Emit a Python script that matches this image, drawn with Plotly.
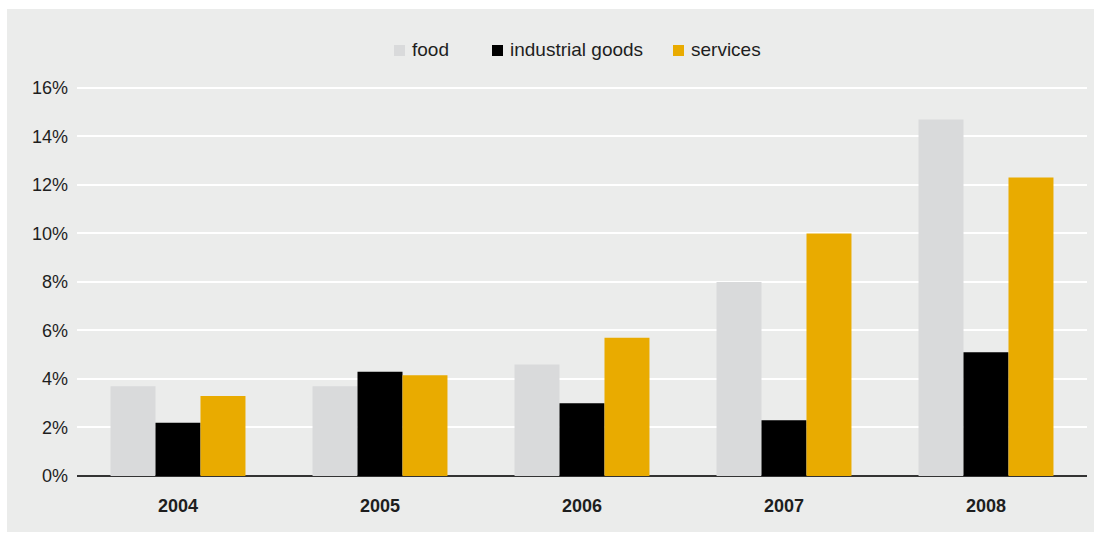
import plotly.graph_objects as go

# Annual price growth by category
years = ["2004", "2005", "2006", "2007", "2008"]
food = [3.7, 3.7, 4.6, 8.0, 14.7]
industrial_goods = [2.2, 4.3, 3.0, 2.3, 5.1]
services = [3.3, 4.15, 5.7, 10.0, 12.3]
y_ticks = [0, 2, 4, 6, 8, 10, 12, 14, 16]
y_tick_text = [f"{v}%" for v in y_ticks]

series = [
    ("food", food, "#d9dadb"),
    ("industrial goods", industrial_goods, "#000000"),
    ("services", services, "#e9ab00"),
]

PANEL = "#ebeceb"
TEXT = "#1e1e1e"
FONT = "Liberation Sans, Arial, sans-serif"

W, H = 1094, 533
ml, mr, mt, mb = 77, 7, 83, 57
pw, ph = W - ml - mr, H - mt - mb


def px_x(x):
    return (x - ml) / pw


def px_y(y):
    return (H - mb - y) / ph


fig = go.Figure()
for name, vals, color in series:
    fig.add_trace(go.Bar(name=name, x=years, y=vals, marker_color=color,
                         marker_line_width=0, showlegend=False))

# grey panel behind the whole chart, leaving a thin white frame top/left
fig.add_shape(type="rect", xref="paper", yref="paper", layer="below",
              x0=px_x(7), x1=px_x(W), y0=px_y(532), y1=px_y(9),
              fillcolor=PANEL, line_width=0)

# key across the top: small square swatch followed by the series name
legend_x = [394, 492, 673]
for (name, _, color), lx in zip(series, legend_x):
    fig.add_shape(type="rect", xref="paper", yref="paper", layer="above",
                  x0=px_x(lx), x1=px_x(lx + 11), y0=px_y(56), y1=px_y(45),
                  fillcolor=color, line_width=0)
    fig.add_annotation(xref="paper", yref="paper", x=px_x(lx + 16), y=px_y(50),
                       xanchor="left", yanchor="middle", text=name,
                       showarrow=False,
                       font=dict(size=19, family=FONT, color=TEXT))

fig.update_layout(
    width=W, height=H,
    margin=dict(l=ml, r=mr, t=mt, b=mb, pad=0),
    paper_bgcolor="white",
    plot_bgcolor="rgba(0,0,0,0)",
    barmode="group",
    bargap=0.332,
    bargroupgap=0,
    font=dict(family=FONT, color=TEXT, size=18),
    showlegend=False,
)

fig.update_yaxes(range=[0, 16.2], tickmode="array", tickvals=y_ticks,
                 ticktext=y_tick_text,
                 showgrid=True, gridcolor="white", gridwidth=1.5,
                 zeroline=True, zerolinecolor="#333333", zerolinewidth=1.5,
                 showline=False, ticks="", ticklabelstandoff=8,
                 tickfont=dict(size=18, family=FONT, color=TEXT))
fig.update_xaxes(showgrid=False, showline=False, ticks="",
                 ticklabelstandoff=17,
                 tickfont=dict(size=18, family=FONT, color=TEXT, weight="bold"))

fig.write_html("out.html")
